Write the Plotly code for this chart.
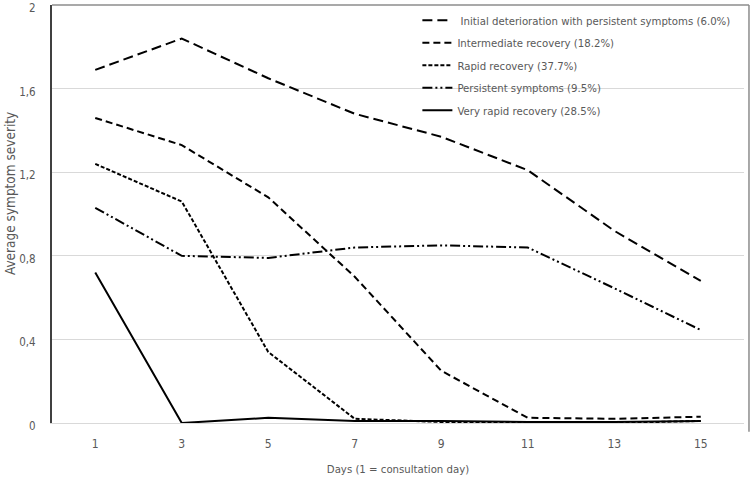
import plotly.graph_objects as go

days = ["1", "3", "5", "7", "9", "11", "13", "15"]

initial_deterioration = [1.69, 1.84, 1.65, 1.48, 1.37, 1.21, 0.92, 0.68]
intermediate_recovery = [1.46, 1.33, 1.08, 0.70, 0.25, 0.025, 0.02, 0.03]
rapid_recovery = [1.24, 1.06, 0.34, 0.02, 0.005, 0.005, 0.0, 0.01]
persistent_symptoms = [1.03, 0.80, 0.79, 0.84, 0.85, 0.84, 0.645, 0.445]
very_rapid_recovery = [0.72, 0.0, 0.025, 0.01, 0.01, 0.005, 0.005, 0.01]

series_names = [
    " Initial deterioration with persistent symptoms (6.0%)",
    "Intermediate recovery (18.2%)",
    "Rapid recovery (37.7%)",
    "Persistent symptoms (9.5%)",
    "Very rapid recovery (28.5%)",
]
series_values = [initial_deterioration, intermediate_recovery, rapid_recovery,
                 persistent_symptoms, very_rapid_recovery]
dashes = ["10px,5px", "7px,4px", "4px,2px", "10px,3px,2px,3px,2px,3px", "solid"]

y_tickvals = [0, 0.4, 0.8, 1.2, 1.6, 2.0]
y_ticktext = ["0", "0,4", "0,8", "1,2", "1,6", "2"]

FONT = "Liberation Sans Narrow, DejaVu Sans Condensed, Lato, sans-serif"
GREY = "#595959"

fig = go.Figure()
for i, (name, vals, dash) in enumerate(zip(series_names, series_values, dashes)):
    fig.add_trace(go.Scatter(
        x=days, y=vals, mode="lines", name=name, legendgroup=f"g{i}",
        line=dict(color="black", width=2, dash=dash),
    ))

fig.update_layout(
    width=752, height=479,
    margin=dict(l=52, r=8, t=5, b=56, autoexpand=False),
    paper_bgcolor="white", plot_bgcolor="white",
    font=dict(family=FONT, size=12, color=GREY),
    showlegend=True,
    legend=dict(x=0.528, y=0.998, xanchor="left", yanchor="top",
                bgcolor="rgba(0,0,0,0)", font=dict(size=11.3, color=GREY),
                tracegroupgap=3.5, traceorder="grouped"),
    xaxis=dict(type="category", range=[-0.5, 7.5], showgrid=False,
               showline=True, linecolor="#d9d9d9", linewidth=1,
               ticks="", ticklabelstandoff=10, automargin=False,
               tickfont=dict(size=12, color=GREY),
               title=dict(text="Days (1 = consultation day)", standoff=14,
                          font=dict(size=11.3, color=GREY))),
    yaxis=dict(range=[0, 2.0005], tickvals=y_tickvals, ticktext=y_ticktext,
               showgrid=True, gridcolor="#d9d9d9", gridwidth=1,
               zeroline=False, showline=True, linecolor="#404040", linewidth=2,
               ticks="", ticklabelstandoff=12, automargin=False,
               ticklabeloverflow="allow", ticklabelshift=3,
               tickfont=dict(size=11.5, color=GREY)),
    annotations=[dict(text="Average symptom severity", textangle=-90,
                      x=-0.0607, y=0.55, xref="paper", yref="paper",
                      xanchor="center", yanchor="middle", showarrow=False,
                      font=dict(size=13.5, color=GREY))],
    shapes=[
        dict(type="line", xref="paper", yref="paper", x0=0, x1=1.0072, y0=1, y1=1,
             line=dict(color="#8c8c8c", width=1.5)),
        dict(type="line", xref="paper", yref="paper", x0=1.0072, x1=1.0072, y0=1, y1=-0.021,
             line=dict(color="#8c8c8c", width=1.5)),
    ],
)

fig.write_html("out.html", config={"displayModeBar": False},
               post_script="document.body.style.margin='0';document.body.style.overflow='hidden';")
